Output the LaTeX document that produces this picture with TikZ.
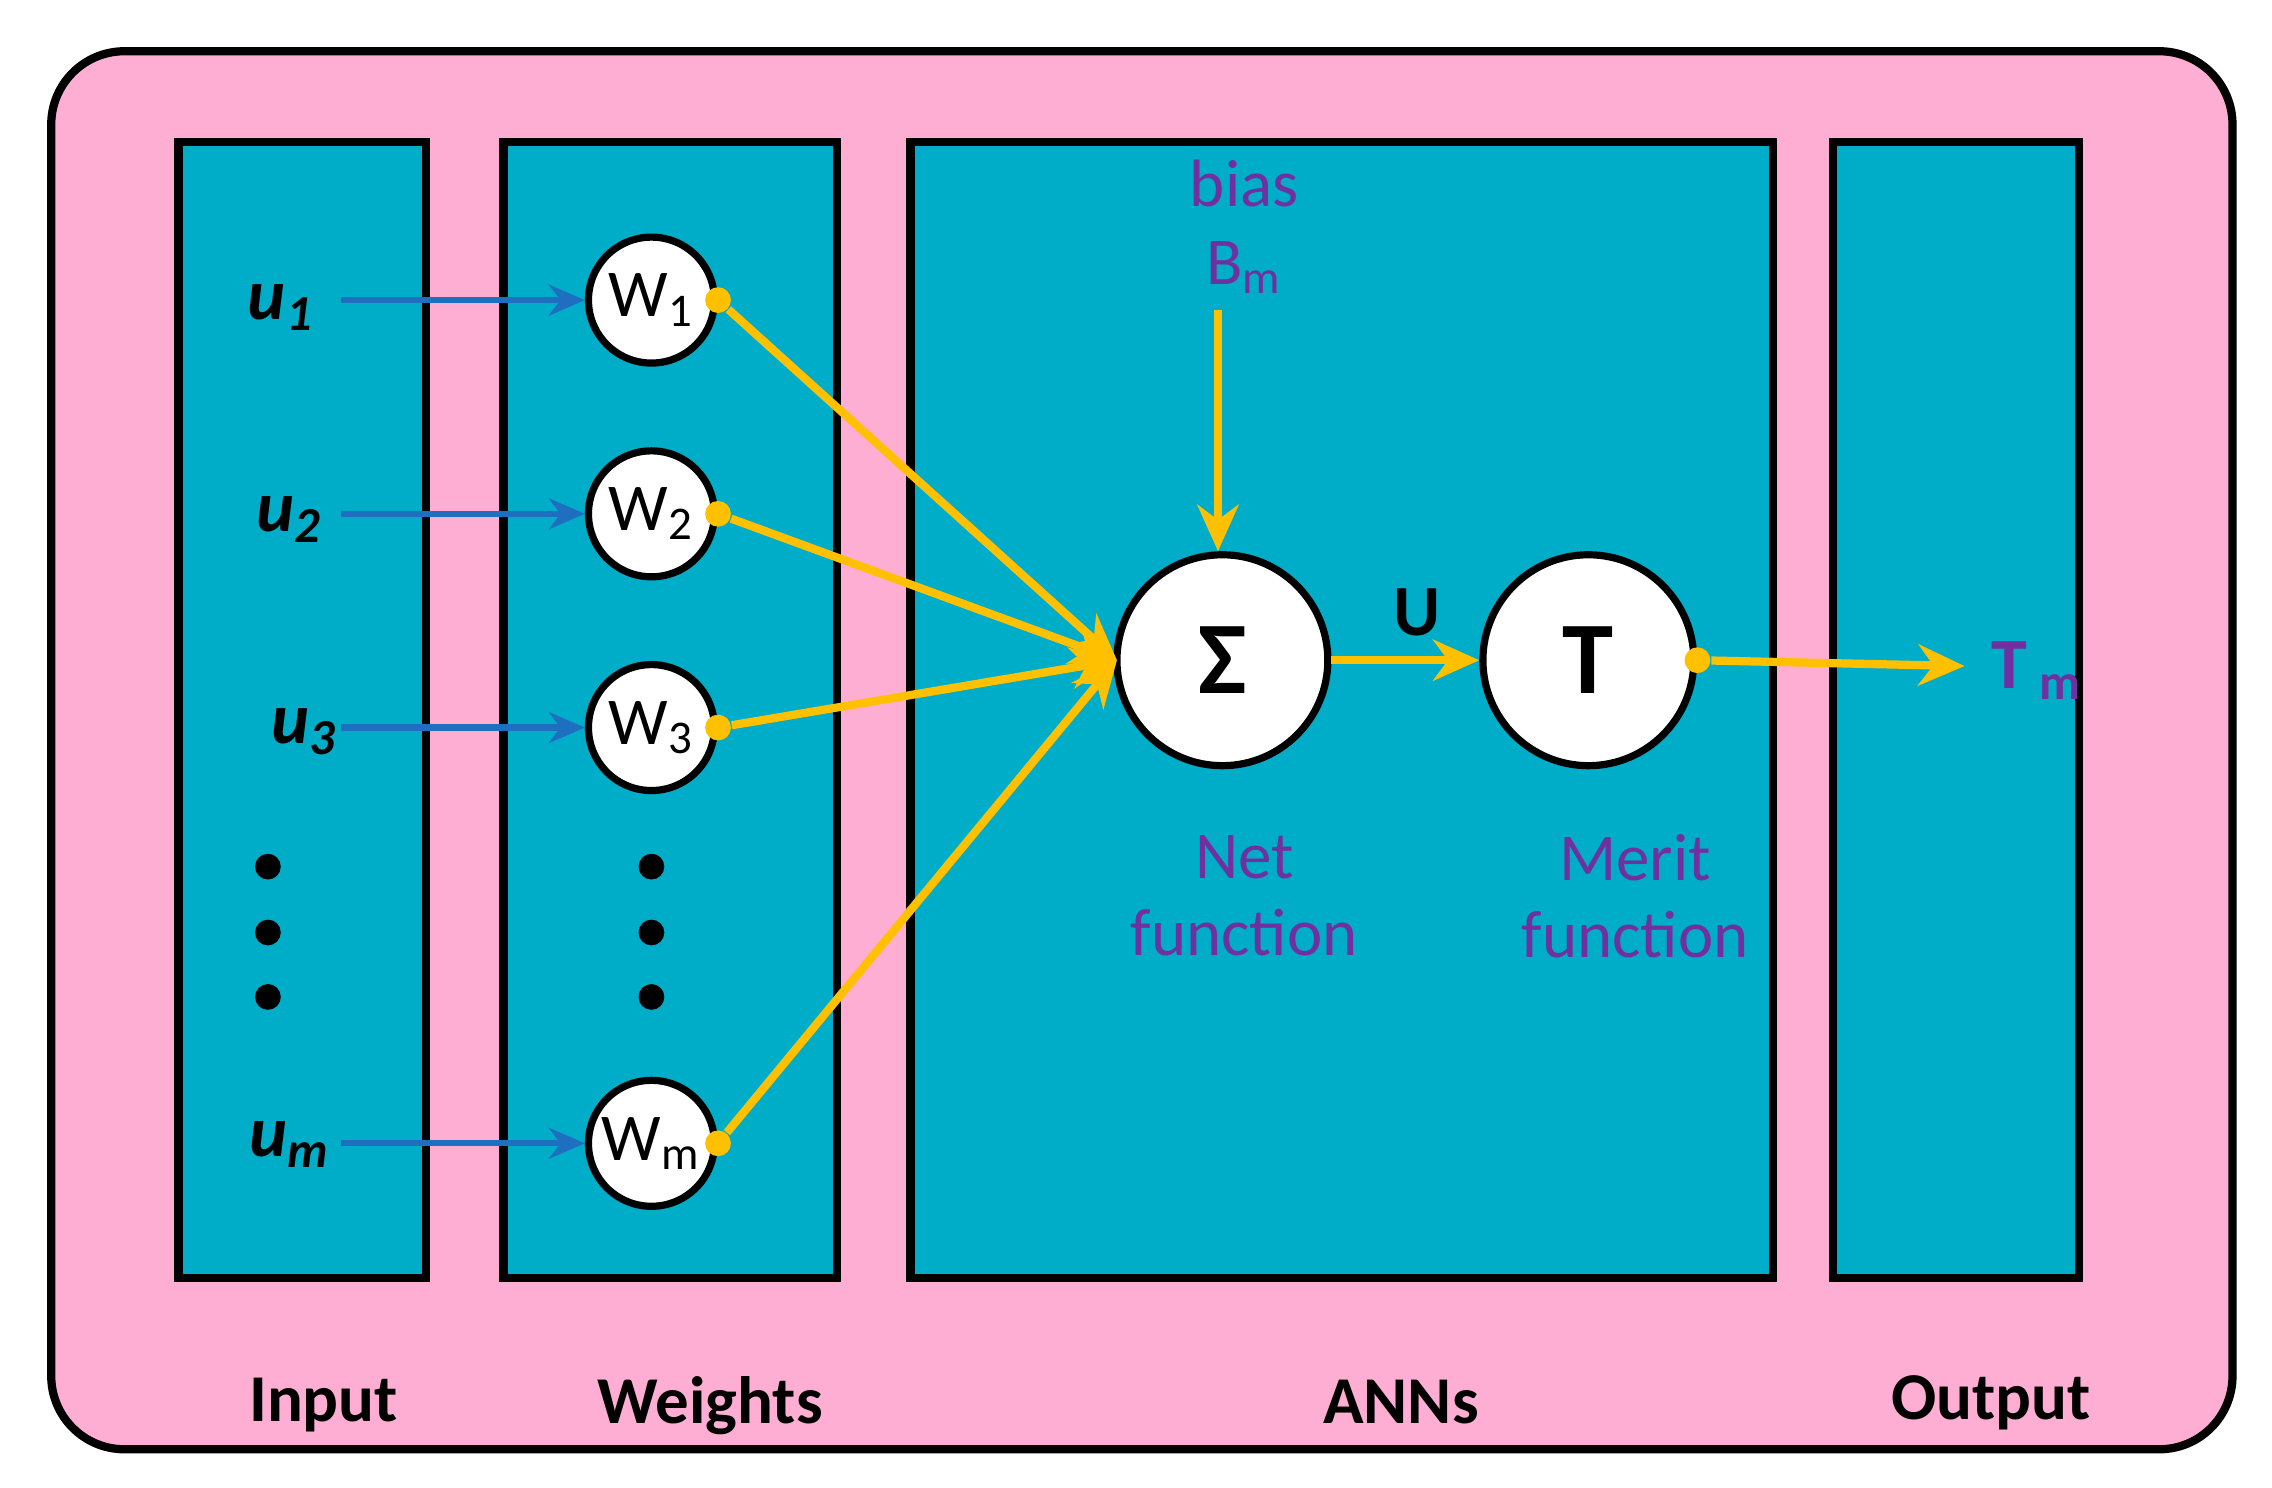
\documentclass[tikz,border=0pt]{standalone}
\usepackage{fontspec}
\setmainfont{Carlito}
\usetikzlibrary{arrows.meta}
\definecolor{pinkbg}{HTML}{FFAED3}
\definecolor{teal}{HTML}{00ADC8}
\definecolor{purp}{HTML}{7030A0}
\definecolor{yel}{HTML}{FFC000}
\definecolor{blu}{HTML}{1F6FC0}
\begin{document}
\begin{tikzpicture}[x=0.01cm,y=-0.01cm,
 panel/.style={draw=black,line width=1.6pt,fill=teal},
 wc/.style={circle,draw=black,line width=1.4pt,fill=white,minimum size=0.86cm,inner sep=0pt,font=\fontsize{13}{13}\selectfont},
 bc/.style={circle,draw=black,line width=1.4pt,fill=white,minimum size=1.44cm,inner sep=0pt,font=\fontsize{20}{20}\selectfont\bfseries},
 ulab/.style={font=\fontsize{14}{14}\selectfont\bfseries\itshape\rmfamily},
 blab/.style={font=\fontsize{13}{13}\selectfont\bfseries},
 plab/.style={text=purp,font=\fontsize{13}{15}\selectfont,align=center},
 barr/.style={draw=blu,line width=1.2pt,-{Stealth[length=7pt,width=6pt]}},
 yarr/.style={draw=yel,line width=1.6pt,-{Stealth[length=9pt,width=8pt]}},
 ydot/.style={circle,fill=yel,inner sep=0pt,minimum size=5pt},
 bdot/.style={circle,fill=black,inner sep=0pt,minimum size=5pt}]
\useasboundingbox (0,0) rectangle (1552,1016);
\draw[fill=pinkbg,line width=1.6pt,rounded corners=0.5cm] (35,35) rectangle (1525,990);
\draw[panel] (122,97) rectangle (291,873);
\draw[panel] (344,97) rectangle (572,873);
\draw[panel] (622,97) rectangle (1211,873);
\draw[panel] (1252,97) rectangle (1420,873);
% weights
\node[wc] (w1) at (445,205) {W\textsubscript{1}};
\node[wc] (w2) at (445,351) {W\textsubscript{2}};
\node[wc] (w3) at (445,497) {W\textsubscript{3}};
\node[wc] (wm) at (445,781) {W\textsubscript{m}};
\node[bc] (sig) at (835,451) {Σ};
\node[bc] (T) at (1085,451) {T};
% inputs
\node[ulab] (u1) at (192,210) {u\textsubscript{1}};
\node[ulab] (u2) at (198,355) {u\textsubscript{2}};
\node[ulab] (u3) at (208,500) {u\textsubscript{3}};
\node[ulab] (um) at (198,782) {u\textsubscript{m}};
\coordinate (a1) at (233,205); \coordinate (a2) at (233,351); \coordinate (a3) at (233,497); \coordinate (am) at (233,781);
\draw[barr] (a1) -- (w1.west);
\draw[barr] (a2) -- (w2.west);
\draw[barr] (a3) -- (w3.west);
\draw[barr] (am) -- (wm.west);
\foreach \y [count=\i] in {592,637,681}{
 \node[bdot] (d\i) at (183,\y) {};
 \node[bdot] (e\i) at (445,\y) {};}
% yellow
\coordinate (sin) at (763,451);
\foreach \n in {w1,w2,w3,wm}{
 \node[ydot] (\n d) at (\n.east) {};
 \draw[yarr] (\n d) -- (sin);}
\node[plab] (bias) at (850,155) {bias\\B\textsubscript{m}};
\coordinate (bt) at (832,212);
\draw[yarr] (bt) -- (sig.north -| bt);
\draw[yarr] (sig.east) -- (T.west);
\node[text=black,font=\fontsize{14}{14}\selectfont\bfseries] (U) at (968,418) {U};
\node[ydot] (td) at (T.east) {};
\coordinate (out) at (1342,455);
\draw[yarr] (td) -- (out);
\node[text=purp,font=\fontsize{14}{14}\selectfont\bfseries,anchor=west] (Tm) at (1348,458) {T\,\textsubscript{m}};
\node[plab] (net) at (850,612) {Net\\function};
\node[plab] (mer) at (1117,612) {Merit\\function};
\node[blab] at (221,960) {Input};
\node[blab] at (485,960) {Weights};
\node[blab] at (957,958) {ANNs};
\node[blab] at (1360,958) {Output};
\end{tikzpicture}
\end{document}
